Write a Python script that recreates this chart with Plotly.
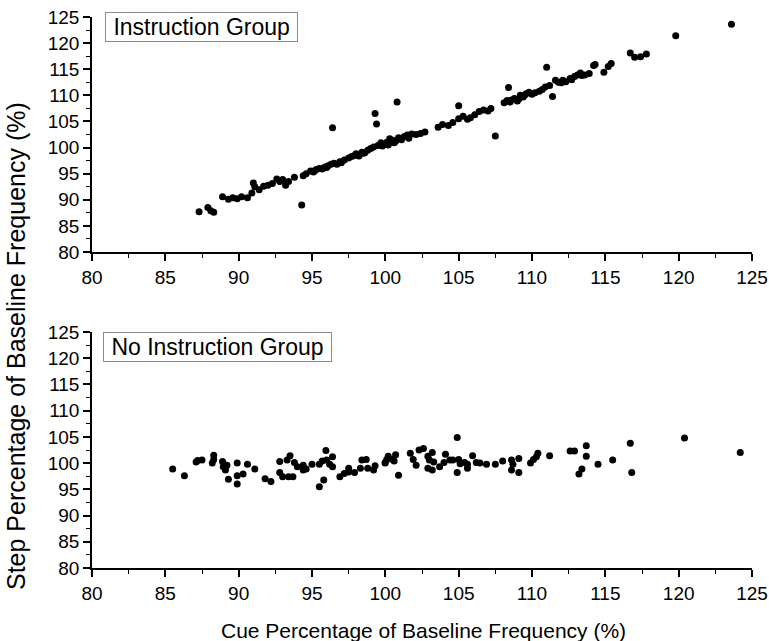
import plotly.graph_objects as go

# Instruction group (top panel)
instr_cue = [87.3, 87.9, 88.1, 88.3, 88.9, 89.3, 89.6, 89.9, 90.2, 90.6, 90.9, 91.0, 91.1, 91.4, 91.7,
             92.0, 92.3, 92.6, 92.8, 93.0, 93.2, 93.4, 93.8, 94.3, 94.4, 94.6, 94.9, 95.1, 95.3, 95.5,
             95.7, 95.9, 96.1, 96.3, 96.5, 96.4, 96.7, 96.9, 97.2, 97.5, 97.7, 98.0, 98.2, 98.4, 98.6,
             98.8, 99.0, 99.2, 99.3, 99.4, 99.5, 99.7, 99.9, 100.1, 100.3, 100.5, 100.6, 100.8, 100.9,
             101.1, 101.3, 101.5, 101.8, 102.1, 102.4, 102.7, 103.6, 103.9, 104.3, 104.6, 105.0, 105.0,
             105.3, 105.6, 105.8, 106.1, 106.4, 106.7, 107.0, 107.2, 107.5, 108.1, 108.3, 108.4, 108.6,
             108.8, 109.0, 109.2, 109.4, 109.6, 109.8, 110.0, 110.5, 110.7, 110.9, 111.0, 111.2, 111.4,
             111.6, 111.8, 112.1, 112.3, 112.6, 112.9, 113.1, 113.3, 113.6, 113.9, 114.2, 114.3, 114.9,
             115.2, 115.4, 116.7, 117.0, 117.4, 117.8, 119.8, 123.6,
             95.2, 95.8, 96.0, 97.0, 97.9, 98.5, 99.8, 100.2, 100.7, 101.6, 108.5, 109.1, 109.5, 110.2,
             112.0, 112.7, 113.4]
instr_step = [87.7, 88.5, 87.9, 87.6, 90.6, 90.1, 90.4, 90.2, 90.6, 90.4, 91.3, 93.2, 92.5, 91.9, 92.6,
              92.8, 93.1, 94.0, 93.5, 93.9, 92.8, 93.5, 94.3, 89.0, 94.6, 95.0, 95.5, 95.3, 95.8, 96.0,
              95.9, 96.3, 96.5, 96.8, 97.0, 103.8, 96.8, 97.3, 97.6, 98.0, 98.3, 98.8, 98.4, 99.1, 99.0,
              99.5, 99.8, 100.1, 106.5, 104.5, 100.4, 100.9, 100.6, 101.0, 101.7, 101.4, 100.9, 108.7, 101.9,
              101.5, 102.1, 102.4, 102.6, 102.5, 102.7, 103.0, 103.9, 104.4, 104.2, 104.8, 108.0, 105.5,
              106.0, 105.4, 105.7, 106.3, 106.9, 107.2, 107.0, 107.5, 102.2, 108.6, 109.0, 111.5, 109.1,
              109.4, 108.9, 110.0, 109.7, 110.3, 110.6, 110.2, 110.8, 111.1, 111.6, 115.4, 111.9, 109.8,
              112.9, 112.5, 112.9, 112.6, 113.2, 113.6, 113.9, 114.3, 113.9, 114.2, 115.7, 115.9, 114.4,
              115.5, 116.1, 118.1, 117.3, 117.4, 117.9, 121.4, 123.6,
              95.6, 96.1, 96.2, 97.1, 98.5, 98.9, 100.3, 100.5, 101.2, 101.8, 108.7, 109.3, 110.0, 110.5,
              112.4, 113.0, 113.8]

# No instruction group (bottom panel)
noinstr_cue = [85.5, 86.3, 87.1, 87.2, 87.5, 88.3, 88.2, 88.3, 88.9, 88.95, 89.1, 89.3, 89.2, 89.9, 89.9,
               89.9, 90.3, 90.6, 91.1, 91.8, 92.2, 92.8, 92.8, 93.0, 93.3, 93.5, 93.4, 93.7, 93.8, 94.0,
               94.4, 94.4, 94.6, 95.0, 95.5, 95.5, 95.8, 95.7, 95.95, 96.0, 96.4, 96.2, 96.4, 96.9, 97.2,
               97.5, 97.5, 97.9, 98.3, 98.4, 98.7, 98.8, 99.2, 99.3, 99.98, 100.1,
               100.0, 100.2, 100.5, 100.7, 100.9, 100.6, 101.7, 101.9, 102.1, 102.3, 102.6, 102.9, 103.0,
               102.9, 103.2, 103.2, 103.3, 103.7, 104.0, 104.1, 104.4, 104.6, 104.9, 104.9, 105.0, 105.1,
               105.4, 105.6, 105.6, 105.95, 106.2, 106.45, 106.9, 107.5, 108.0, 108.6, 108.6, 108.7, 109.1,
               109.1, 109.9, 110.1, 110.3, 110.4, 111.2, 112.6, 112.9, 113.2, 113.4, 113.7, 113.7, 114.5,
               115.5, 116.7, 116.8, 120.4, 124.2]
noinstr_step = [98.9, 97.6, 100.2, 100.5, 100.6, 101.5, 100.0, 100.7, 100.3, 99.3, 98.7, 96.9, 99.6, 100.0, 96.0,
                97.6, 97.9, 99.8, 98.9, 97.0, 96.5, 100.3, 98.2, 97.4, 100.6, 101.4, 97.4, 97.4, 100.1, 99.3,
                99.6, 98.7, 98.9, 99.8, 99.8, 95.5, 96.8, 100.4, 102.4, 100.6, 101.2, 99.8, 99.3, 97.4, 98.0,
                98.3, 99.0, 98.2, 99.0, 100.6, 100.7, 99.0, 98.7, 99.5, 100.0, 100.7,
                100.1, 101.3, 100.7, 101.6, 97.7, 100.4, 101.9, 100.7, 99.6, 102.5, 102.8, 101.3, 100.6,
                99.0, 98.7, 102.0, 100.2, 99.3, 100.1, 101.7, 100.6, 100.6, 104.9, 98.2, 100.7, 99.9,
                100.1, 99.0, 99.8, 101.4, 100.1, 100.0, 99.8, 99.8, 100.4, 100.6, 98.7, 99.8, 98.2,
                100.9, 100.0, 100.7, 101.2, 101.9, 101.4, 102.3, 102.3, 97.9, 98.9, 103.3, 101.3, 99.8,
                100.6, 103.8, 98.2, 104.8, 102.0]

tick_vals = [80, 85, 90, 95, 100, 105, 110, 115, 120, 125]
x_title = "Cue Percentage of Baseline Frequency (%)"
y_title = "Step Percentage of Baseline Frequency (%)"
panel_labels = ["Instruction Group", "No Instruction Group"]

W, H = 769, 641
FONT = "Liberation Sans, Arial, sans-serif"

fig = go.Figure()
fig.add_trace(go.Scatter(x=instr_cue, y=instr_step, mode="markers",
                         marker=dict(color="black", size=7), xaxis="x", yaxis="y", showlegend=False))
fig.add_trace(go.Scatter(x=noinstr_cue, y=noinstr_step, mode="markers",
                         marker=dict(color="black", size=7), xaxis="x2", yaxis="y2", showlegend=False))

xd = [92 / W, 752 / W]
axis_common = dict(range=[80, 125], tickvals=tick_vals, showline=True, linecolor="black", linewidth=1.5,
                   ticks="outside", ticklen=7, tickwidth=1.5, tickcolor="black", showgrid=False,
                   zeroline=False, automargin=False, tickfont=dict(family=FONT, size=19, color="black"),
                   minor=dict(dtick=2.5, ticks="outside", ticklen=4, tickwidth=1.2, tickcolor="black",
                              showgrid=False))

fig.update_layout(
    width=W, height=H, margin=dict(l=0, r=0, t=0, b=0, autoexpand=False),
    paper_bgcolor="white", plot_bgcolor="white",
    xaxis=dict(domain=xd, anchor="y", **axis_common),
    yaxis=dict(domain=[1 - 252 / H, 1 - 17 / H], anchor="x", **axis_common),
    xaxis2=dict(domain=xd, anchor="y2", **axis_common),
    yaxis2=dict(domain=[1 - 568 / H, 1 - 332 / H], anchor="x2", **axis_common),
)

fig.add_annotation(x=423 / W, y=1 - 630 / H, xref="paper", yref="paper", text=x_title, showarrow=False,
                   font=dict(family=FONT, size=21, color="black"), xanchor="center", yanchor="middle")
fig.add_annotation(x=16 / W, y=1 - 346 / H, xref="paper", yref="paper", text=y_title, showarrow=False,
                   textangle=-90, font=dict(family=FONT, size=25, color="black"),
                   xanchor="center", yanchor="middle")

for lab, ytop, xl in zip(panel_labels, [12, 332], [105, 103]):
    fig.add_annotation(x=xl / W, y=1 - ytop / H, xref="paper", yref="paper",
                       text="\u00a0" + lab + "\u00a0", showarrow=False,
                       font=dict(family=FONT, size=23, color="black"), xanchor="left", yanchor="top",
                       bordercolor="#8c8c8c", borderwidth=1, borderpad=1, bgcolor="white")

fig.write_html("out.html")
